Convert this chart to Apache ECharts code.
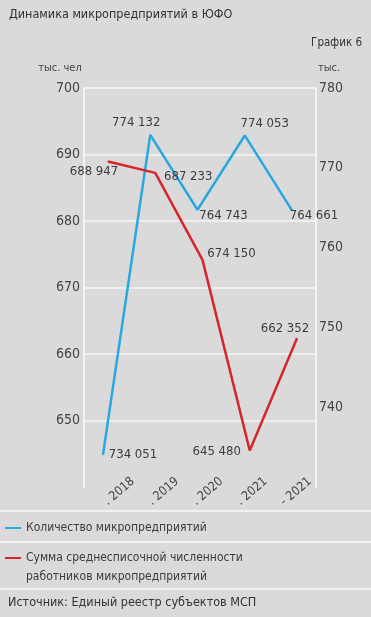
<!DOCTYPE html>
<html><head><meta charset="utf-8">
<script src="https://cdn.jsdelivr.net/npm/echarts@6/dist/echarts.min.js"></script>
<style>html,body{margin:0;padding:0;background:#dadadb}#c{width:371px;height:617px}</style>
</head><body><div id="c"></div>
<script>
// ---- data ----
const categories = ['. 2018', '. 2019', '. 2020', '. 2021', '- 2021'];
const countName = 'Количество микропредприятий';
const staffName = 'Сумма среднесписочной численности работников микропредприятий';
const countValues = [734051, 774132, 764743, 774053, 764661];   // units (right axis, тыс.)
const staffValues = [688947, 687233, 674150, 645480, 662352];   // persons (left axis, тыс. чел)
const leftTicks = [640, 700, 10];   // min, max, step
const rightTicks = [730, 780, 10];

// ---- styles ----
const FONT = '"Liberation Sans Narrow","DejaVu Sans Condensed","Roboto",sans-serif';
const BLUE = '#28a8df', RED = '#d6252b', TXT = '#3c3c3c';
const countLabelOffsets = [[30, 0], [-14, -12], [26, 6], [20, -12], [22, 5]];
const staffLabelOffsets = [[-14, 10], [33, 4], [29, -6], [-33, 1], [-12, -10]];

const fmt = v => String(v).replace(/\B(?=(\d{3})+(?!\d))/g, ' ');

function mkData(vals, offsets) {
  return vals.map((v, i) => ({
    value: v / 1000,
    raw: v,
    label: { offset: offsets[i] }
  }));
}

const chart = echarts.init(document.getElementById('c'));
chart.setOption({
  backgroundColor: '#dadadb',
  animation: false,
  title: [
    { text: 'Динамика микропредприятий в ЮФО', left: 9, top: 8, padding: 0,
      textStyle: { fontSize: 12.5, fontWeight: 'normal', color: '#333', fontFamily: FONT } },
    { text: 'Источник: Единый реестр субъектов МСП', left: 8, top: 596, padding: 0,
      textStyle: { fontSize: 12.5, fontWeight: 'normal', color: '#333', fontFamily: FONT } }
  ],
  legend: [
    { data: [countName], left: 5, top: 522, padding: 0, selectedMode: false,
      icon: 'rect', itemWidth: 16, itemHeight: 2,
      textStyle: { fontSize: 12, color: TXT, fontFamily: FONT } },
    { data: [staffName], left: 5, top: 552, padding: 0, selectedMode: false,
      icon: 'rect', itemWidth: 16, itemHeight: 2,
      formatter: () => 'Сумма среднесписочной численности',
      textStyle: { fontSize: 12, color: TXT, fontFamily: FONT } }
  ],
  graphic: [
    { type: 'rect', shape: { x: 0, y: 510, width: 371, height: 2 }, style: { fill: '#f2f2f2' } },
    { type: 'rect', shape: { x: 0, y: 541, width: 371, height: 2 }, style: { fill: '#f2f2f2' } },
    { type: 'rect', shape: { x: 0, y: 588, width: 371, height: 2 }, style: { fill: '#f2f2f2' } },
    { type: 'text', x: 362, y: 43, style: { text: 'График 6', align: 'right', verticalAlign: 'middle',
      fontSize: 11.5, fontFamily: FONT, fill: '#333' } },
    { type: 'text', x: 60, y: 68, style: { text: 'тыс. чел', align: 'center', verticalAlign: 'middle',
      fontSize: 11, fontFamily: FONT, fill: '#444' } },
    { type: 'text', x: 318, y: 68, style: { text: 'тыс.', align: 'left', verticalAlign: 'middle',
      fontSize: 11, fontFamily: FONT, fill: '#444' } },
    { type: 'text', x: 26, y: 577, style: { text: 'работников микропредприятий', align: 'left', verticalAlign: 'middle',
      fontSize: 12, fontFamily: FONT, fill: TXT } }
  ],
  grid: [
    { left: 84, right: 55, top: 88, bottom: 130 },
    { left: 108, right: 74, top: 88, bottom: 130 },
    { left: 103, right: 79, top: 88, bottom: 130 },
    { left: 133, right: 61, top: 88, bottom: 145 }
  ],
  xAxis: [
    { gridIndex: 0, type: 'category', data: categories, show: false },
    { gridIndex: 1, type: 'category', data: categories, boundaryGap: false, show: false },
    { gridIndex: 2, type: 'category', data: categories, boundaryGap: false, show: false },
    { gridIndex: 3, type: 'category', data: categories, boundaryGap: false,
      axisLine: { show: false }, axisTick: { show: false },
      axisLabel: { rotate: 40, margin: 8, fontSize: 12.5, color: '#444', fontFamily: FONT, interval: 0 } }
  ],
  yAxis: [
    { gridIndex: 0, type: 'value', position: 'left', min: leftTicks[0], max: leftTicks[1], interval: leftTicks[2],
      axisLine: { show: true, lineStyle: { color: '#f4f4f4', width: 2 } }, axisTick: { show: false },
      axisLabel: { showMinLabel: false, margin: 4, fontSize: 14, color: '#444', fontFamily: FONT },
      splitLine: { show: true, showMinLine: false, lineStyle: { color: '#f4f4f4', width: 1.5 } } },
    { gridIndex: 0, type: 'value', position: 'right', min: rightTicks[0], max: rightTicks[1], interval: rightTicks[2],
      axisLine: { show: true, lineStyle: { color: '#f4f4f4', width: 2 } }, axisTick: { show: false },
      axisLabel: { showMinLabel: false, margin: 3, fontSize: 14, color: '#444', fontFamily: FONT },
      splitLine: { show: false } },
    { gridIndex: 1, type: 'value', min: leftTicks[0], max: leftTicks[1], show: false, splitLine: { show: false } },
    { gridIndex: 2, type: 'value', min: rightTicks[0], max: rightTicks[1], show: false, splitLine: { show: false } },
    { gridIndex: 3, type: 'value', show: false, splitLine: { show: false } }
  ],
  series: [
    { name: countName, type: 'line', xAxisIndex: 2, yAxisIndex: 3, z: 3,
      color: BLUE, symbol: 'circle', symbolSize: 1,
      lineStyle: { color: BLUE, width: 2.5 },
      label: { show: true, position: 'inside', fontSize: 13, color: TXT, fontFamily: FONT,
        formatter: p => fmt(p.data.raw) },
      data: mkData(countValues, countLabelOffsets) },
    { name: staffName, type: 'line', xAxisIndex: 1, yAxisIndex: 2, z: 4,
      color: RED, symbol: 'circle', symbolSize: 1,
      lineStyle: { color: RED, width: 2.5 },
      label: { show: true, position: 'inside', fontSize: 13, color: TXT, fontFamily: FONT,
        formatter: p => fmt(p.data.raw) },
      data: mkData(staffValues, staffLabelOffsets) }
  ]
});
</script></body></html>
